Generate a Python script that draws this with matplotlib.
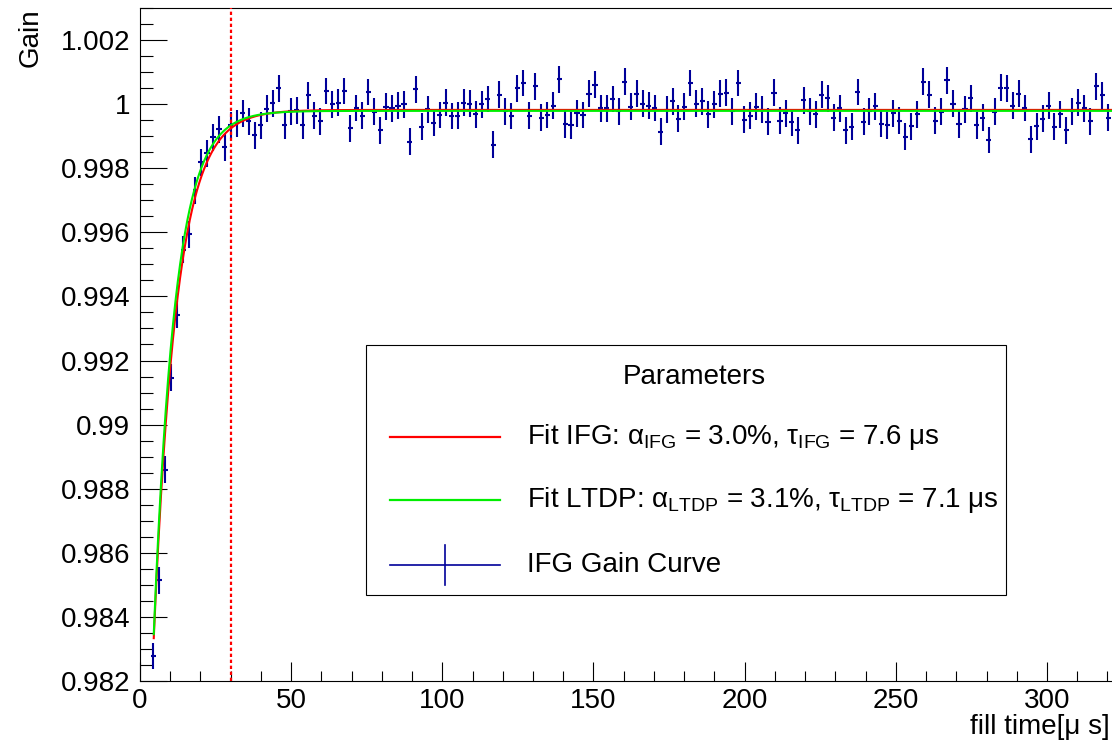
import numpy as np
import matplotlib.pyplot as plt
from matplotlib.lines import Line2D
from matplotlib.patches import Rectangle
from matplotlib.ticker import MultipleLocator, FuncFormatter

plt.rcParams['font.family'] = ['Liberation Sans', 'DejaVu Sans']
plt.rcParams['mathtext.fontset'] = 'custom'
plt.rcParams['mathtext.rm'] = 'Liberation Sans'
plt.rcParams['mathtext.it'] = 'Liberation Sans'
plt.rcParams['mathtext.bf'] = 'Liberation Sans:bold'

# IFG gain curve, one value per time bin
t_first, t_step = 4.4, 1.974
gain = [
    0.98278, 0.98515, 0.98859, 0.99146, 0.99343, 0.99546, 0.99594, 0.99731, 0.99819, 0.99846,
    0.99896, 0.99921, 0.99865, 0.99934, 0.99940, 0.99971, 0.99946, 0.99903, 0.99934, 0.99986,
    1.00003, 1.00049, 0.99934, 0.99978, 0.99981,
    0.99934, 1.00028, 0.99964, 0.99947, 1.00041, 0.99999, 1.00004, 1.00041, 0.99924, 0.99988,
    0.99964, 1.00038, 0.99976, 0.99919, 0.99992, 0.99987, 0.99995, 0.99999, 0.99882, 1.00046,
    0.99929, 0.99984, 0.99942, 0.99966, 1.00004, 0.99963, 0.99964,
    1.00005, 1.00002, 0.99968, 0.99999, 1.00016, 0.99874, 1.00030, 0.99978, 0.99963, 1.00049,
    1.00066, 0.99964, 1.00056, 0.99957, 0.99966, 0.99995, 1.00077, 0.99937, 0.99934, 0.99971,
    0.99966, 1.00033, 1.00061, 0.99987, 0.99987, 1.00016, 0.99978,
    1.00070, 0.99992, 1.00033, 1.00002, 0.99995, 0.99988, 0.99914, 0.99983, 1.00009, 0.99955,
    0.99992, 1.00066, 1.00002, 1.00009, 0.99968, 0.99999, 1.00033, 1.00036, 0.99978, 1.00066,
    0.99952, 0.99964, 0.99992, 0.99983, 0.99945, 1.00036,
    0.99948, 0.99971, 0.99943, 0.99919, 1.00012, 0.99978, 0.99968, 1.00030, 1.00018, 0.99958,
    0.99987, 0.99919, 0.99929, 1.00038, 0.99945, 0.99978, 0.99994, 0.99938, 0.99934, 0.99971,
    0.99948, 0.99898, 0.99931, 0.99968, 1.00070, 1.00030, 0.99948,
    0.99976, 1.00075, 1.00002, 0.99937, 0.99984, 1.00018, 0.99934, 0.99957, 0.99888, 0.99976,
    1.00051, 1.00049, 0.99995, 1.00033, 0.99988, 0.99891, 0.99931, 0.99955, 0.99995, 0.99929,
    0.99968, 0.99919, 0.99978, 1.00004, 0.99987, 0.99947, 1.00056, 1.00028, 0.99957,
]
gain_err = 0.00042
time_err = 0.85
t = t_first + t_step * np.arange(len(gain))

# fit results  G(t) = A * (1 - alpha * exp(-t / tau))
fit_labels = [r"Fit IFG: $\alpha_{IFG}$ = 3.0%, $\tau_{IFG}$ = 7.6 μs",
              r"Fit LTDP: $\alpha_{LTDP}$ = 3.1%, $\tau_{LTDP}$ = 7.1 μs"]
fit_amp = [0.99982, 0.99979]
fit_alpha = [0.030, 0.031]
fit_tau = [7.6, 7.1]
fit_colors = ['#ff0000', '#00ee00']
fit_start, fit_end = 4.55, 321.5
cut_time = 30

data_color = '#000099'

fig = plt.figure(figsize=(11.12, 7.41), dpi=100)
W, H = 1112, 741
ax = fig.add_axes([140 / W, 60 / H, (W - 140) / W, 673 / H])

ax.errorbar(t, gain, yerr=gain_err, xerr=time_err, fmt='none',
            ecolor=data_color, elinewidth=1.5, capsize=0, zorder=2)

tt = np.linspace(fit_start, fit_end, 800)
for amp, alpha, tau, col in zip(fit_amp, fit_alpha, fit_tau, fit_colors):
    ax.plot(tt, amp * (1 - alpha * np.exp(-tt / tau)), color=col, lw=1.5, zorder=3)

ax.axvline(cut_time, color='red', lw=1.6, ls=(0, (1.5, 1.2)), zorder=4)

ax.set_xlim(0, 321.5)
ax.set_ylim(0.982, 1.003)
ax.xaxis.set_major_locator(MultipleLocator(50))
ax.xaxis.set_minor_locator(MultipleLocator(10))
ax.yaxis.set_major_locator(MultipleLocator(0.002))
ax.yaxis.set_minor_locator(MultipleLocator(0.0005))
ax.yaxis.set_major_formatter(FuncFormatter(lambda v, p: f'{v:g}'))

ax.tick_params(axis='both', which='both', direction='in', width=0.8,
               labelsize=20, top=False, right=False)
ax.tick_params(axis='y', which='major', length=19.5, pad=7)
ax.tick_params(axis='y', which='minor', length=9.5)
ax.tick_params(axis='x', which='major', length=14, pad=5)
ax.tick_params(axis='x', which='minor', length=7)
ax.spines['right'].set_visible(False)
for s in ['left', 'bottom', 'top']:
    ax.spines[s].set_linewidth(0.8)

fig.text(31 / W, 1 - 8 / H, 'Gain', rotation=90, ha='center', va='top', fontsize=20)
fig.text(1110 / W, 1 - 740 / H, 'fill time[μ s]', ha='right', va='bottom', fontsize=20)


# legend box
def fx(x):
    return x / W


def fy(y):
    return 1 - y / H


fig.add_artist(Rectangle((fx(366), fy(595)), 640 / W, 250 / H, transform=fig.transFigure,
                         facecolor='white', edgecolor='black', lw=0.8, zorder=5))
fig.text(fx(694), fy(377), 'Parameters', ha='center', va='center', fontsize=20, zorder=6)

rows = [437, 500]
for y, col, lab in zip(rows, fit_colors, fit_labels):
    fig.add_artist(Line2D([fx(390), fx(500)], [fy(y), fy(y)], color=col, lw=1.6,
                          transform=fig.transFigure, zorder=6))
    fig.text(fx(527), fy(y), lab, ha='left', va='center', fontsize=20, zorder=6)

fig.add_artist(Line2D([fx(390), fx(500)], [fy(565), fy(565)], color=data_color, lw=1.2,
                      transform=fig.transFigure, zorder=6))
fig.add_artist(Line2D([fx(445), fx(445)], [fy(545), fy(585)], color=data_color, lw=1.2,
                      transform=fig.transFigure, zorder=6))
fig.text(fx(527), fy(565), 'IFG Gain Curve', ha='left', va='center', fontsize=20, zorder=6)

fig.savefig('out.png', dpi=100)
